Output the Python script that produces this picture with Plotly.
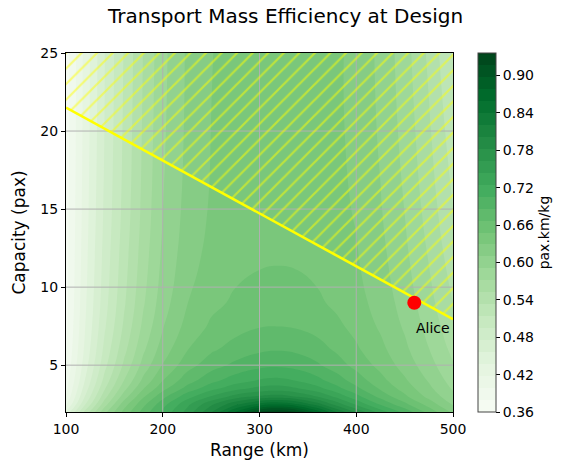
import plotly.graph_objects as go

# ---- data ----
range_km = [100, 120, 140, 160, 180, 200, 225, 250, 275, 300, 320, 340, 360, 380, 400, 425, 450, 475, 500]
capacity_pax = [2, 2.5, 3, 3.5, 4, 5, 6, 7.5, 9, 11.5, 15, 20, 25]
efficiency = [
    [.440, .520, .585, .635, .675, .710, .750, .800, .860, .920, .935, .915, .870, .820, .780, .735, .700, .660, .625],  # 2
    [.413, .494, .563, .620, .662, .698, .738, .778, .815, .845, .855, .840, .810, .773, .740, .703, .672, .640, .607],  # 2.5
    [.400, .477, .545, .600, .645, .680, .716, .745, .770, .785, .790, .780, .762, .738, .712, .680, .652, .623, .596],  # 3
    [.393, .466, .531, .584, .628, .661, .693, .718, .737, .750, .753, .745, .731, .712, .691, .665, .640, .614, .588],  # 3.5
    [.388, .458, .521, .572, .615, .648, .678, .700, .716, .727, .730, .724, .712, .696, .678, .655, .632, .608, .582],  # 4
    [.382, .448, .508, .556, .598, .630, .659, .678, .691, .700, .702, .698, .689, .676, .661, .642, .621, .598, .573],  # 5
    [.378, .442, .500, .546, .587, .619, .647, .664, .675, .683, .685, .682, .675, .664, .651, .634, .614, .591, .566],  # 6
    [.375, .437, .492, .536, .576, .608, .635, .651, .660, .666, .667, .665, .660, .652, .642, .626, .607, .584, .558],  # 7.5
    [.373, .434, .487, .530, .569, .601, .628, .643, .651, .656, .657, .655, .651, .644, .636, .621, .602, .578, .552],  # 9
    [.372, .431, .483, .525, .563, .595, .621, .636, .643, .6465, .6475, .6465, .643, .638, .631, .616, .596, .571, .543],  # 11.5
    [.371, .428, .479, .520, .558, .590, .616, .631, .639, .643, .644, .643, .640, .634, .627, .611, .590, .563, .533],  # 15
    [.370, .426, .476, .517, .555, .587, .613, .629, .637, .641, .642, .641, .638, .632, .624, .607, .584, .555, .522],  # 20
    [.370, .425, .475, .515, .553, .585, .612, .628, .637, .641, .642, .641, .638, .632, .623, .605, .580, .548, .512],  # 25
]
limit_range = [100, 500]
limit_capacity = [21.5, 7.95]
design_range = [460]
design_capacity = [9.0]
design_label = ["Alice"]
x_ticks = [100, 200, 300, 400, 500]
y_ticks = [5, 10, 15, 20, 25]
cbar_ticks = [0.36, 0.42, 0.48, 0.54, 0.60, 0.66, 0.72, 0.78, 0.84, 0.90]
z_min, z_max = 0.36, 0.936

greens = [
    [0.0, "rgb(247,252,245)"], [0.125, "rgb(229,245,224)"], [0.25, "rgb(199,233,192)"],
    [0.375, "rgb(161,217,155)"], [0.5, "rgb(116,196,118)"], [0.625, "rgb(65,171,93)"],
    [0.75, "rgb(35,139,69)"], [0.875, "rgb(0,109,44)"], [1.0, "rgb(0,68,27)"],
]
FONT = "DejaVu Sans"

fig = go.Figure()
n_levels = 30
fig.add_trace(go.Contour(
    x=range_km, y=capacity_pax, z=efficiency,
    colorscale=greens, zmin=z_min, zmax=z_max,
    contours=dict(start=z_min, end=z_max, size=(z_max - z_min) / n_levels, coloring="fill"),
    line=dict(width=0, smoothing=1.3),
    hoverinfo="skip",
    colorbar=dict(
        x=1.0646, xanchor="left", xpad=0, y=0.5, yanchor="middle", ypad=0, len=1, lenmode="fraction",
        thickness=18, outlinecolor="#444444", outlinewidth=1,
        tickvals=cbar_ticks, ticktext=[f"{v:.2f}" for v in cbar_ticks],
        ticks="outside", ticklen=4, tickcolor="black",
        tickfont=dict(family=FONT, size=14, color="black"),
        title=dict(text="pax.km/kg", side="right", font=dict(family=FONT, size=14, color="black")),
    ),
))

# grid lines (drawn above the filled contours, as in the reference)
for xv in x_ticks[1:-1]:
    fig.add_trace(go.Scatter(x=[xv, xv], y=[capacity_pax[0], y_ticks[-1]], mode="lines",
                             line=dict(color="#b0b0b0", width=1), hoverinfo="skip", showlegend=False))
for yv in y_ticks[:-1]:
    fig.add_trace(go.Scatter(x=[limit_range[0], limit_range[1]], y=[yv, yv], mode="lines",
                             line=dict(color="#b0b0b0", width=1), hoverinfo="skip", showlegend=False))

# hatched infeasible region above the limit line
fig.add_trace(go.Scatter(
    x=[limit_range[0], limit_range[1], limit_range[1], limit_range[0]],
    y=[limit_capacity[0], limit_capacity[1], y_ticks[-1], y_ticks[-1]],
    fill="toself", mode="lines", line=dict(width=0, color="rgba(0,0,0,0)"),
    fillcolor="rgba(0,0,0,0)",
    fillpattern=dict(shape="/", fgcolor="#ffff00", bgcolor="rgba(0,0,0,0)", size=11, solidity=0.2),
    hoverinfo="skip", showlegend=False,
))
fig.add_trace(go.Scatter(x=limit_range, y=limit_capacity, mode="lines",
                         line=dict(color="#ffff00", width=2.6), hoverinfo="skip", showlegend=False))
fig.add_trace(go.Scatter(x=design_range, y=design_capacity, mode="markers",
                         marker=dict(color="red", size=14, line=dict(width=0)),
                         hoverinfo="skip", showlegend=False))
fig.add_annotation(x=design_range[0], y=design_capacity[0] - 1.65, text=design_label[0],
                   showarrow=False, xanchor="left", yanchor="middle",
                   font=dict(family=FONT, size=14, color="black"))

axis_common = dict(showgrid=False, zeroline=False, showline=True, linecolor="black", linewidth=1,
                   mirror=True, ticks="outside", ticklen=4, tickcolor="black",
                   tickfont=dict(family=FONT, size=14, color="black"))
fig.update_xaxes(range=[100, 500], tickvals=x_ticks,
                 title=dict(text="Range (km)", font=dict(family=FONT, size=17, color="black"), standoff=8),
                 **axis_common)
fig.update_yaxes(range=[2, 25], tickvals=y_ticks,
                 title=dict(text="Capacity (pax)", font=dict(family=FONT, size=17, color="black"), standoff=10),
                 **axis_common)

fig.update_layout(
    width=561, height=463,
    margin=dict(l=66, r=108, t=53, b=51, autoexpand=False),
    paper_bgcolor="white", plot_bgcolor="white",
    showlegend=False,
    title=dict(text="Transport Mass Efficiency at Design", x=0.509, xref="container", xanchor="center",
               y=0.965, yref="container", yanchor="middle",
               font=dict(family=FONT, size=20, color="black")),
)
fig.write_html("out.html", config={"displayModeBar": False},
               post_script="document.body.style.margin='0';document.body.style.overflow='hidden';")
